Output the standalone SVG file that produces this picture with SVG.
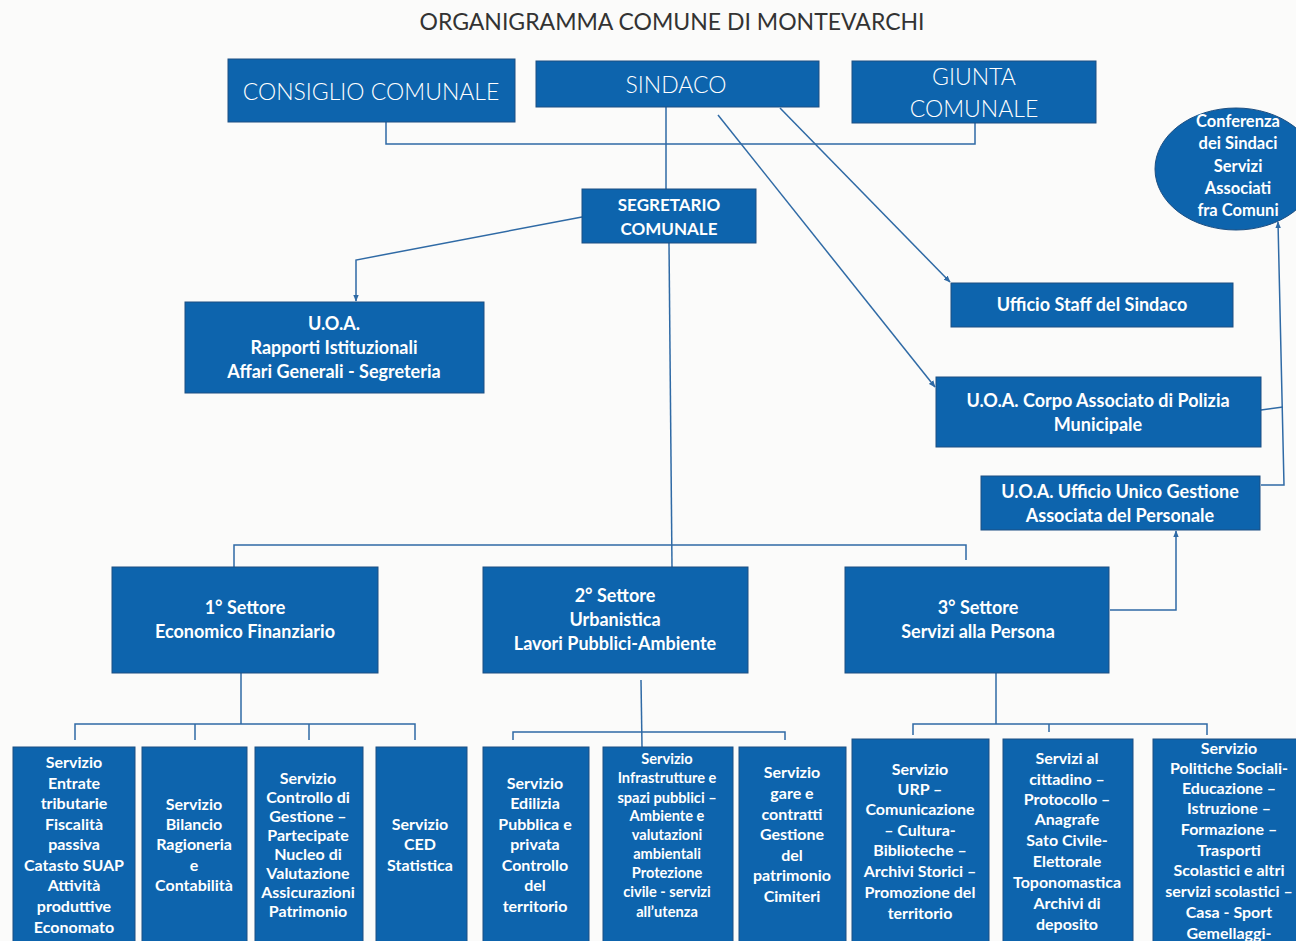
<svg xmlns="http://www.w3.org/2000/svg" width="1296" height="941" viewBox="0 0 1296 941">
<style>
.bg{fill:#fbfbfa}
.box{fill:#0d64ad;stroke:#1d4f82;stroke-width:1}
.t{fill:#ffffff;font-family:Lato,"Liberation Sans",sans-serif;text-anchor:middle}
.top{font-size:23px;font-weight:300}
.mid{font-size:18px;font-weight:bold}
.seg{font-size:17px;font-weight:bold}
.ell{font-size:16.5px;font-weight:bold}
.set{font-size:18px;font-weight:bold}
.sm{font-size:16px;font-weight:bold}
.xs{font-size:14.6px;font-weight:bold}
.title{fill:#333;font-family:Lato,"Liberation Sans",sans-serif;font-size:23px;text-anchor:middle}
.c{fill:none;stroke:#2f6aa5;stroke-width:1.5}
</style>
<defs>
<marker id="ah" viewBox="0 0 10 10" refX="9" refY="5" markerWidth="7" markerHeight="7" orient="auto-start-reverse" markerUnits="userSpaceOnUse">
<path d="M0,1 L10,5 L0,9 z" fill="#2f6aa5"/>
</marker>
</defs>
<rect class="bg" x="0" y="0" width="1296" height="941"/>
<text class="title" x="672" y="30">ORGANIGRAMMA COMUNE DI MONTEVARCHI</text>

<g id="connectors">
<polyline class="c" points="386,122 386,144 975,144 975,123"/>
<line class="c" x1="666" y1="107" x2="666" y2="189"/>
<line class="c" x1="780" y1="108" x2="950" y2="282" marker-end="url(#ah)"/>
<line class="c" x1="718" y1="115" x2="935" y2="387" marker-end="url(#ah)"/>
<polyline class="c" points="582,217 356,260 356,301" marker-end="url(#ah)"/>
<line class="c" x1="669" y1="243" x2="672" y2="567"/>
<polyline class="c" points="234,567 234,545 966,545 966,560"/>
<polyline class="c" points="1110,610 1176,610 1176,531" marker-end="url(#ah)"/>
<polyline class="c" points="1261,485 1284,485 1278,222" marker-end="url(#ah)"/>
<line class="c" x1="1261" y1="410" x2="1283" y2="407"/>
<line class="c" x1="241" y1="673" x2="241" y2="724"/>
<polyline class="c" points="75,740 75,724 415,724 415,740"/>
<line class="c" x1="195" y1="724" x2="195" y2="740"/>
<line class="c" x1="309" y1="724" x2="309" y2="740"/>
<line class="c" x1="641" y1="680" x2="642" y2="747"/>
<polyline class="c" points="513,740 513,732 785,732 785,740"/>
<line class="c" x1="996" y1="673" x2="996" y2="724"/>
<polyline class="c" points="913,735 913,724 1207,724 1207,735"/>
<line class="c" x1="1049" y1="724" x2="1049" y2="732"/>
</g>

<g id="consiglio"><rect class="box" x="228" y="59" width="287" height="63"/><text class="t top" x="371" y="100">CONSIGLIO COMUNALE</text></g>
<g id="sindaco"><rect class="box" x="536" y="61" width="283" height="46"/><text class="t top" x="676" y="93">SINDACO</text></g>
<g id="giunta"><rect class="box" x="852" y="61" width="244" height="62"/><text class="t top" x="974" y="85">GIUNTA</text><text class="t top" x="974" y="117">COMUNALE</text></g>

<g id="conferenza"><ellipse cx="1236" cy="169" rx="81" ry="61" fill="#0d64ad" stroke="#1d4f82"/>
<text class="t ell"><tspan x="1238" y="127">Conferenza</tspan><tspan x="1238" y="149">dei Sindaci</tspan><tspan x="1238" y="172">Servizi</tspan><tspan x="1238" y="194">Associati</tspan><tspan x="1238" y="216">fra Comuni</tspan></text></g>

<g id="segretario"><rect class="box" x="582" y="189" width="174" height="54"/><text class="t seg"><tspan x="669" y="211">SEGRETARIO</tspan><tspan x="669" y="235">COMUNALE</tspan></text></g>

<g id="uoa-rapporti"><rect class="box" x="185" y="302" width="299" height="91"/><text class="t mid"><tspan x="334" y="330">U.O.A.</tspan><tspan x="334" y="354">Rapporti Istituzionali</tspan><tspan x="334" y="378">Affari Generali - Segreteria</tspan></text></g>

<g id="staff"><rect class="box" x="951" y="283" width="282" height="44"/><text class="t mid" x="1092" y="311">Ufficio Staff del Sindaco</text></g>

<g id="polizia"><rect class="box" x="936" y="377" width="325" height="70"/><text class="t mid"><tspan x="1098" y="407">U.O.A. Corpo Associato di Polizia</tspan><tspan x="1098" y="431">Municipale</tspan></text></g>

<g id="personale"><rect class="box" x="981" y="476" width="279" height="54"/><text class="t mid"><tspan x="1120" y="498">U.O.A. Ufficio Unico Gestione</tspan><tspan x="1120" y="522">Associata del  Personale</tspan></text></g>

<g id="settore1"><rect class="box" x="112" y="567" width="266" height="106"/><text class="t set"><tspan x="245" y="614">1° Settore</tspan><tspan x="245" y="638">Economico Finanziario</tspan></text></g>
<g id="settore2"><rect class="box" x="483" y="567" width="265" height="106"/><text class="t set"><tspan x="615" y="602">2° Settore</tspan><tspan x="615" y="626">Urbanistica</tspan><tspan x="615" y="650">Lavori Pubblici-Ambiente</tspan></text></g>
<g id="settore3"><rect class="box" x="845" y="567" width="264" height="106"/><text class="t set"><tspan x="978" y="614">3° Settore</tspan><tspan x="978" y="638">Servizi alla Persona</tspan></text></g>

<g id="s-entrate"><rect class="box" x="13" y="747" width="122" height="200"/><text class="t sm"><tspan x="74" y="768">Servizio</tspan><tspan x="74" y="789">Entrate</tspan><tspan x="74" y="809">tributarie</tspan><tspan x="74" y="830">Fiscalità</tspan><tspan x="74" y="850">passiva</tspan><tspan x="74" y="871">Catasto SUAP</tspan><tspan x="74" y="891">Attività</tspan><tspan x="74" y="912">produttive</tspan><tspan x="74" y="933">Economato</tspan></text></g>
<g id="s-bilancio"><rect class="box" x="142" y="747" width="105" height="200"/><text class="t sm"><tspan x="194" y="810">Servizio</tspan><tspan x="194" y="830">Bilancio</tspan><tspan x="194" y="850">Ragioneria</tspan><tspan x="194" y="871">e</tspan><tspan x="194" y="891">Contabilità</tspan></text></g>
<g id="s-controllo"><rect class="box" x="255" y="747" width="108" height="200"/><text class="t sm"><tspan x="308" y="784">Servizio</tspan><tspan x="308" y="803">Controllo di</tspan><tspan x="308" y="822">Gestione –</tspan><tspan x="308" y="841">Partecipate</tspan><tspan x="308" y="860">Nucleo di</tspan><tspan x="308" y="879">Valutazione</tspan><tspan x="308" y="898">Assicurazioni</tspan><tspan x="308" y="917">Patrimonio</tspan></text></g>
<g id="s-ced"><rect class="box" x="376" y="747" width="91" height="200"/><text class="t sm"><tspan x="420" y="830">Servizio</tspan><tspan x="420" y="850">CED</tspan><tspan x="420" y="871">Statistica</tspan></text></g>

<g id="s-edilizia"><rect class="box" x="483" y="747" width="106" height="200"/><text class="t sm"><tspan x="535" y="789">Servizio</tspan><tspan x="535" y="809">Edilizia</tspan><tspan x="535" y="830">Pubblica e</tspan><tspan x="535" y="850">privata</tspan><tspan x="535" y="871">Controllo</tspan><tspan x="535" y="891">del</tspan><tspan x="535" y="912">territorio</tspan></text></g>
<g id="s-infrastrutture"><rect class="box" x="603" y="747" width="130" height="200"/><text class="t xs"><tspan x="667" y="764">Servizio</tspan><tspan x="667" y="783">Infrastrutture e</tspan><tspan x="667" y="803">spazi pubblici –</tspan><tspan x="667" y="821">Ambiente e</tspan><tspan x="667" y="840">valutazioni</tspan><tspan x="667" y="859">ambientali</tspan><tspan x="667" y="878">Protezione</tspan><tspan x="667" y="897">civile - servizi</tspan><tspan x="667" y="917">all’utenza</tspan></text></g>
<g id="s-gare"><rect class="box" x="739" y="747" width="107" height="200"/><text class="t sm"><tspan x="792" y="778">Servizio</tspan><tspan x="792" y="799">gare e</tspan><tspan x="792" y="820">contratti</tspan><tspan x="792" y="840">Gestione</tspan><tspan x="792" y="861">del</tspan><tspan x="792" y="881">patrimonio</tspan><tspan x="792" y="902">Cimiteri</tspan></text></g>

<g id="s-urp"><rect class="box" x="852" y="739" width="137" height="208"/><text class="t sm"><tspan x="920" y="775">Servizio</tspan><tspan x="920" y="795">URP –</tspan><tspan x="920" y="815">Comunicazione</tspan><tspan x="920" y="836">– Cultura-</tspan><tspan x="920" y="856">Biblioteche –</tspan><tspan x="920" y="877">Archivi Storici –</tspan><tspan x="920" y="898">Promozione del</tspan><tspan x="920" y="919">territorio</tspan></text></g>
<g id="s-cittadino"><rect class="box" x="1003" y="739" width="130" height="208"/><text class="t sm"><tspan x="1067" y="764">Servizi al</tspan><tspan x="1067" y="785">cittadino –</tspan><tspan x="1067" y="805">Protocollo –</tspan><tspan x="1067" y="825">Anagrafe</tspan><tspan x="1067" y="846">Sato Civile-</tspan><tspan x="1067" y="867">Elettorale</tspan><tspan x="1067" y="888">Toponomastica</tspan><tspan x="1067" y="909">Archivi di</tspan><tspan x="1067" y="930">deposito</tspan></text></g>
<g id="s-politiche"><rect class="box" x="1153" y="739" width="150" height="208"/><text class="t sm"><tspan x="1229" y="754">Servizio</tspan><tspan x="1229" y="774">Politiche Sociali-</tspan><tspan x="1229" y="794">Educazione –</tspan><tspan x="1229" y="814">Istruzione –</tspan><tspan x="1229" y="835">Formazione –</tspan><tspan x="1229" y="856">Trasporti</tspan><tspan x="1229" y="876">Scolastici  e altri</tspan><tspan x="1229" y="897">servizi scolastici –</tspan><tspan x="1229" y="918">Casa - Sport</tspan><tspan x="1229" y="939">Gemellaggi-</tspan></text></g>
</svg>
